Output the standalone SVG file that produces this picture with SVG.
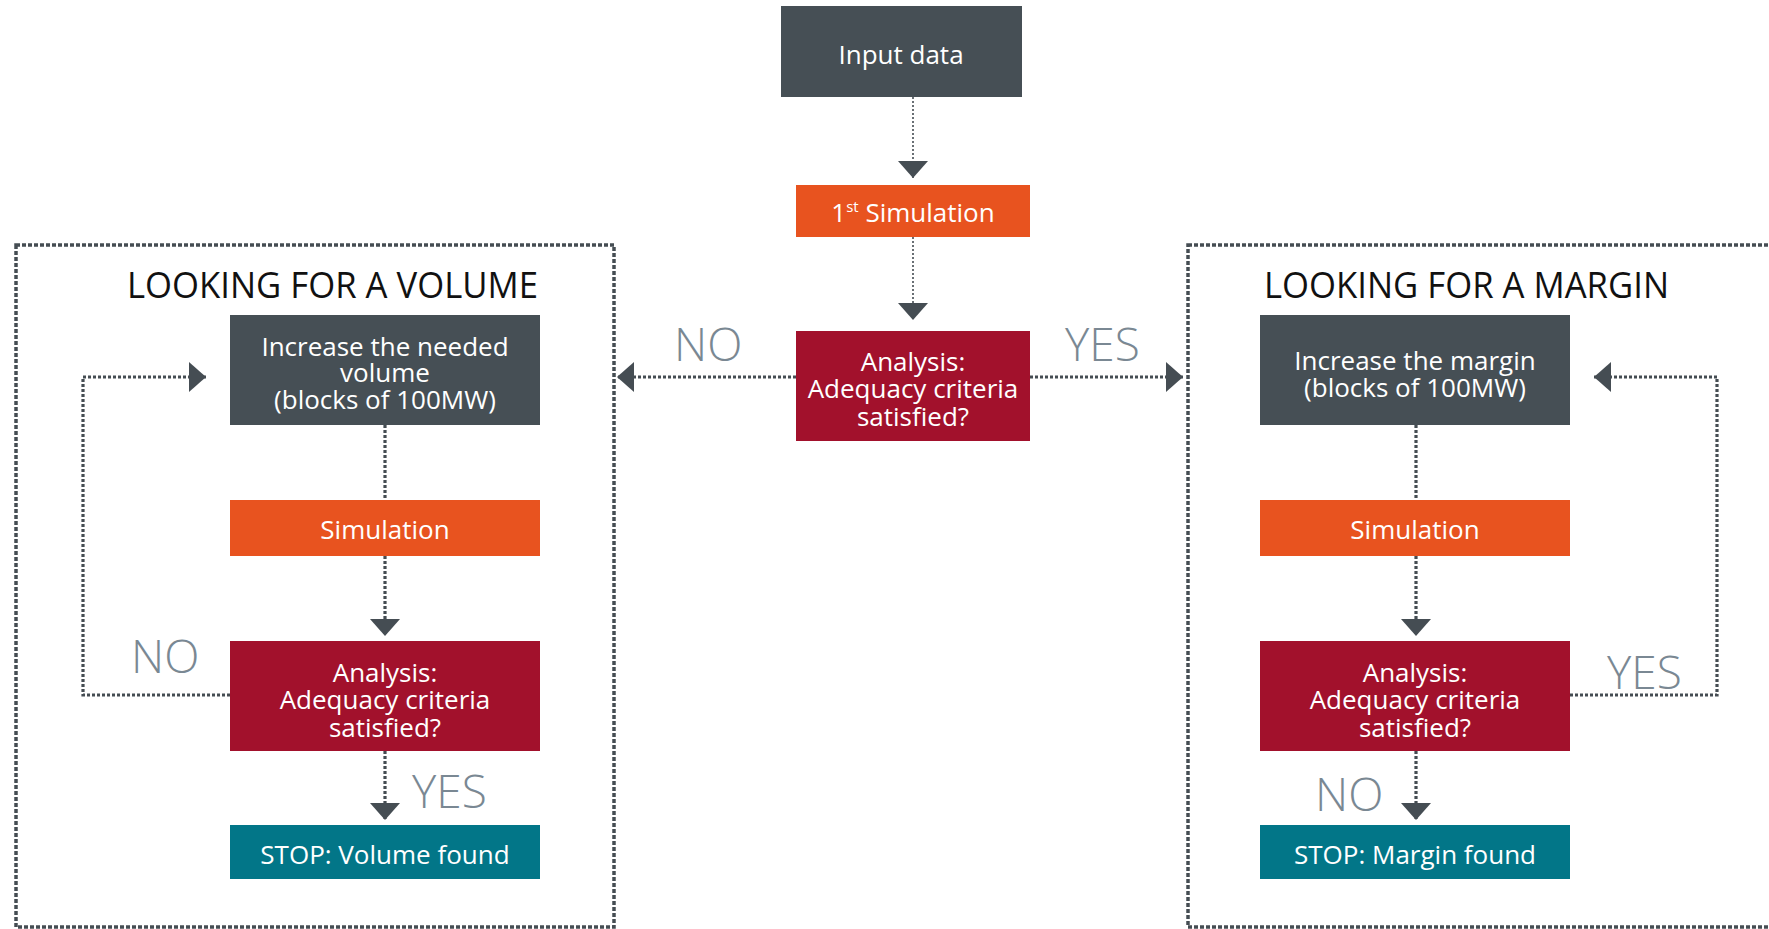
<svg xmlns="http://www.w3.org/2000/svg" width="1769" height="929" viewBox="0 0 1769 929">
<style>
.box-dark{fill:#464f55}
.box-orange{fill:#e8531f}
.box-red{fill:#a2112c}
.box-teal{fill:#027688}
.t{font-family:"Open Sans","Liberation Sans",sans-serif;font-size:26px;fill:#ffffff;text-anchor:middle}
.title{font-family:"Open Sans","Liberation Sans",sans-serif;font-size:36px;fill:#111111}
.lbl{font-family:"Open Sans","Liberation Sans",sans-serif;font-size:46px;font-weight:300;fill:#7a8893}
.frame{fill:none;stroke:#454d53;stroke-width:3.5;stroke-dasharray:4 2}
.thin{fill:none;stroke:#454d53;stroke-width:1.6;stroke-dasharray:2 2}
.thick{fill:none;stroke:#454d53;stroke-width:3.2;stroke-dasharray:3 2}
</style>
<defs>
<marker id="arr" markerUnits="userSpaceOnUse" markerWidth="18" markerHeight="30" refX="17" refY="15" orient="auto">
<path d="M0,0 L17,15 L0,30 Z" fill="#454d53"/>
</marker>
</defs>
<rect width="1769" height="929" fill="#ffffff"/>
<g id="frames">
<rect class="frame" x="16" y="245" width="598" height="682"/>
<rect class="frame" x="1188" y="245" width="600" height="682"/>
<text class="title" x="127" y="298" textLength="411" lengthAdjust="spacingAndGlyphs">LOOKING FOR A VOLUME</text>
<text class="title" x="1264" y="298" textLength="405" lengthAdjust="spacingAndGlyphs">LOOKING FOR A MARGIN</text>
</g>
<g id="connectors">
<path class="thin" d="M913,97 V178" marker-end="url(#arr)"/>
<path class="thin" d="M913,237 V320" marker-end="url(#arr)"/>
<path class="thick" d="M796,377 H617" marker-end="url(#arr)"/>
<path class="thick" d="M1030,377 H1183" marker-end="url(#arr)"/>
<path class="thick" d="M385,425 V500"/>
<path class="thick" d="M385,556 V636" marker-end="url(#arr)"/>
<path class="thick" d="M385,751 V820" marker-end="url(#arr)"/>
<path class="thick" d="M230,695 H83 V377 H206" marker-end="url(#arr)"/>
<path class="thick" d="M1416,425 V500"/>
<path class="thick" d="M1416,556 V636" marker-end="url(#arr)"/>
<path class="thick" d="M1416,751 V820" marker-end="url(#arr)"/>
<path class="thick" d="M1570,695 H1717 V377 H1594" marker-end="url(#arr)"/>
<text class="lbl" x="674" y="361">NO</text>
<text class="lbl" x="1065" y="361">YES</text>
<text class="lbl" x="131" y="673">NO</text>
<text class="lbl" x="412" y="808">YES</text>
<text class="lbl" x="1607" y="689">YES</text>
<text class="lbl" x="1315" y="811">NO</text>
</g>
<g id="input">
<rect class="box-dark" x="781" y="6" width="241" height="91"/>
<text class="t" x="901" y="64">Input data</text>
</g>
<g id="sim1">
<rect class="box-orange" x="796" y="185" width="234" height="52"/>
<text class="t" x="913" y="222">1<tspan font-size="15" dy="-10">st</tspan><tspan dy="10"> Simulation</tspan></text>
</g>
<g id="analysis-main">
<rect class="box-red" x="796" y="331" width="234" height="110"/>
<text class="t" x="913" y="371">Analysis:</text>
<text class="t" x="913" y="398">Adequacy criteria</text>
<text class="t" x="913" y="426">satisfied?</text>
</g>
<g id="vol-increase">
<rect class="box-dark" x="230" y="315" width="310" height="110"/>
<text class="t" x="385" y="356">Increase the needed</text>
<text class="t" x="385" y="382">volume</text>
<text class="t" x="385" y="409">(blocks of 100MW)</text>
</g>
<g id="vol-sim">
<rect class="box-orange" x="230" y="500" width="310" height="56"/>
<text class="t" x="385" y="539">Simulation</text>
</g>
<g id="vol-analysis">
<rect class="box-red" x="230" y="641" width="310" height="110"/>
<text class="t" x="385" y="682">Analysis:</text>
<text class="t" x="385" y="709">Adequacy criteria</text>
<text class="t" x="385" y="737">satisfied?</text>
</g>
<g id="vol-stop">
<rect class="box-teal" x="230" y="825" width="310" height="54"/>
<text class="t" x="385" y="864">STOP: Volume found</text>
</g>
<g id="mar-increase">
<rect class="box-dark" x="1260" y="315" width="310" height="110"/>
<text class="t" x="1415" y="370">Increase the margin</text>
<text class="t" x="1415" y="397">(blocks of 100MW)</text>
</g>
<g id="mar-sim">
<rect class="box-orange" x="1260" y="500" width="310" height="56"/>
<text class="t" x="1415" y="539">Simulation</text>
</g>
<g id="mar-analysis">
<rect class="box-red" x="1260" y="641" width="310" height="110"/>
<text class="t" x="1415" y="682">Analysis:</text>
<text class="t" x="1415" y="709">Adequacy criteria</text>
<text class="t" x="1415" y="737">satisfied?</text>
</g>
<g id="mar-stop">
<rect class="box-teal" x="1260" y="825" width="310" height="54"/>
<text class="t" x="1415" y="864">STOP: Margin found</text>
</g>
</svg>
